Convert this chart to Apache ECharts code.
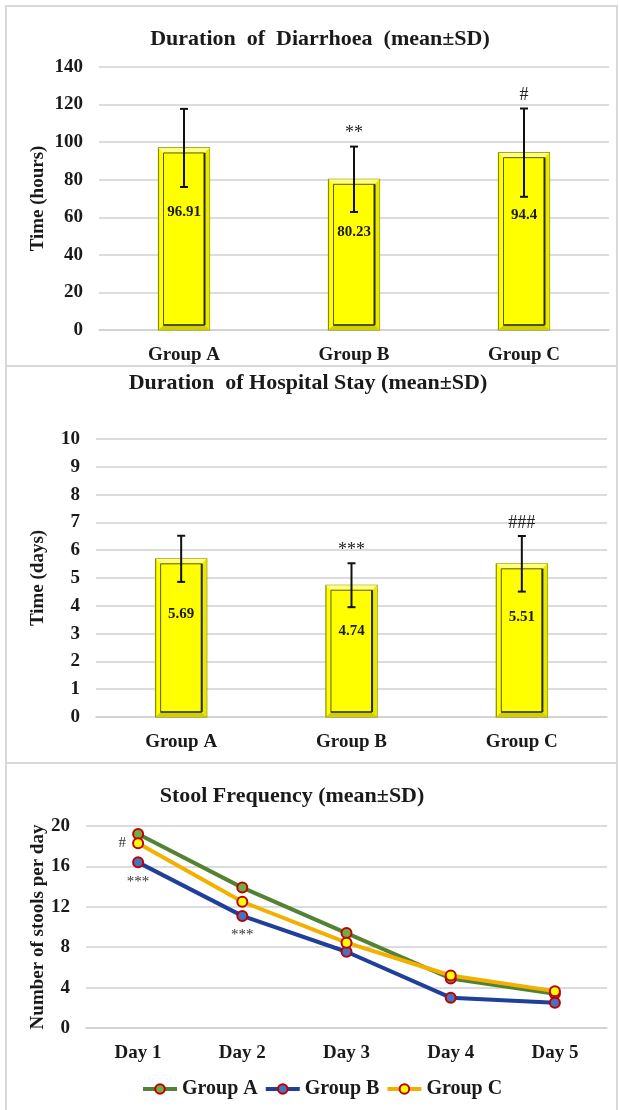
<!DOCTYPE html>
<html>
<head>
<meta charset="utf-8">
<script src="https://cdn.jsdelivr.net/npm/echarts@6.0.0/dist/echarts.min.js"></script>
<style>
	html, body { margin: 0; padding: 0; background: #fff; }
	#wrap { position: relative; width: 619px; height: 1110px; overflow: hidden; }
	.frame { position: absolute; border: 2px solid #d9d9d9; box-sizing: border-box; }
	#chart { position: absolute; left: 0; top: 0; width: 619px; height: 1110px; }
</style>
</head>
<body>
<div id="wrap">
	<div class="frame" style="left:5px;top:5px;width:613px;height:362px"></div>
	<div class="frame" style="left:5px;top:365px;width:613px;height:399px"></div>
	<div class="frame" style="left:5px;top:762px;width:613px;height:360px"></div>
	<div id="chart"></div>
</div>
<script>
	// data
	const groups = ['Group A', 'Group B', 'Group C'];
	const diarrhoeaMean = [96.91, 80.23, 94.4];
	const diarrhoeaSD = [20.8, 17.4, 23.5];
	const diarrhoeaMarks = ['', '**', '#'];
	const diarrhoeaTicks = { min: 0, max: 140, interval: 20 };

	const hospitalMean = [5.69, 4.74, 5.51];
	const hospitalSD = [0.83, 0.79, 1.0];
	const hospitalMarks = ['', '***', '###'];
	const hospitalTicks = { min: 0, max: 10, interval: 1 };

	const days = ['Day 1', 'Day 2', 'Day 3', 'Day 4', 'Day 5'];
	const stoolA = [19.2, 13.9, 9.4, 4.9, 3.4];
	const stoolB = [16.4, 11.1, 7.55, 3.0, 2.5];
	const stoolC = [18.3, 12.5, 8.45, 5.2, 3.65];
	const stoolMarksB = ['***', '***', '', '', ''];
	const stoolMarksC = ['#', '', '', '', ''];
	const stoolTicks = { min: 0, max: 20, interval: 4 };

	const serif = '"Liberation Serif", "Times New Roman", serif';
	const gridColor = '#d0d0d0';

	function barRender(means) {
		return function(params, api) {
			const i = api.value(0);
			const v = api.value(1);
			const top = api.coord([i, v]);
			const base = api.coord([i, 0]);
			const w = api.size([1, 0])[0] * 0.3;
			const x0 = top[0] - w / 2;
			const y0 = top[1];
			const y1 = base[1];
			const h = y1 - y0;
			const d = 5;
			return {
				type: 'group',
				children: [
					{ type: 'rect', shape: { x: x0, y: y0, width: w, height: h }, style: { fill: '#FFFF00', stroke: '#8C8C00', lineWidth: 1.2 } },
					{ type: 'polygon', shape: { points: [[x0, y0], [x0 + w, y0], [x0 + w - d, y0 + d], [x0 + d, y0 + d]] }, style: { fill: '#FFFF80' } },
					{ type: 'polygon', shape: { points: [[x0 + w, y0], [x0 + w, y1], [x0 + w - d, y1 - d], [x0 + w - d, y0 + d]] }, style: { fill: '#E8E800' } },
					{ type: 'polygon', shape: { points: [[x0, y1], [x0 + w, y1], [x0 + w - d, y1 - d], [x0 + d, y1 - d]] }, style: { fill: '#D0D000' } },
					{ type: 'rect', shape: { x: x0 + d, y: y0 + d, width: w - 2 * d, height: h - 2 * d }, style: { fill: '#FFFF00', stroke: '#5a5a00', lineWidth: 1 } },
					{ type: 'line', shape: { x1: x0 + w - d, y1: y0 + d, x2: x0 + w - d, y2: y1 - d }, style: { stroke: '#2a2a00', lineWidth: 2 } },
					{ type: 'line', shape: { x1: x0 + d, y1: y1 - d, x2: x0 + w - d, y2: y1 - d }, style: { stroke: '#3a3a00', lineWidth: 1.5 } },
					{
						type: 'text',
						style: {
							text: String(means[params.dataIndex]),
							x: top[0], y: y0 + h * 0.35,
							align: 'center', verticalAlign: 'middle',
							font: 'bold 15px ' + serif, fill: '#1a1a1a'
						}
					}
				]
			};
		};
	}

	function errRender(marks) {
		return function(params, api) {
			const i = api.value(0);
			const lo = api.coord([i, api.value(1)]);
			const hi = api.coord([i, api.value(2)]);
			const c = 4;
			return {
				type: 'group',
				children: [
					{ type: 'line', shape: { x1: hi[0], y1: hi[1], x2: lo[0], y2: lo[1] }, style: { stroke: '#111', lineWidth: 2 } },
					{ type: 'line', shape: { x1: hi[0] - c, y1: hi[1], x2: hi[0] + c, y2: hi[1] }, style: { stroke: '#111', lineWidth: 2 } },
					{ type: 'line', shape: { x1: lo[0] - c, y1: lo[1], x2: lo[0] + c, y2: lo[1] }, style: { stroke: '#111', lineWidth: 2 } },
					{
						type: 'text',
						style: {
							text: marks[params.dataIndex],
							x: hi[0], y: hi[1] - 4,
							align: 'center', verticalAlign: 'bottom',
							font: '18px ' + serif, fill: '#222'
						}
					}
				]
			};
		};
	}

	function catAxis(idx, data) {
		return {
			type: 'category', gridIndex: idx, data: data,
			axisLine: { lineStyle: { color: gridColor, width: 1.5 } },
			axisTick: { show: false },
			axisLabel: { margin: 16, fontFamily: serif, fontWeight: 'bold', fontSize: 19, color: '#1a1a1a' }
		};
	}

	function valAxis(idx, ticks, name, gap) {
		return {
			type: 'value', gridIndex: idx,
			min: ticks.min, max: ticks.max, interval: ticks.interval,
			name: name, nameLocation: 'middle', nameGap: gap,
			nameMoveOverlap: false,
			nameTextStyle: { fontFamily: serif, fontWeight: 'bold', fontSize: 19, color: '#1a1a1a' },
			axisLine: { show: false },
			axisTick: { show: false },
			splitLine: { lineStyle: { color: gridColor, width: 1.5 } },
			axisLabel: { margin: 16, fontFamily: serif, fontWeight: 'bold', fontSize: 19, color: '#1a1a1a' }
		};
	}

	function lineSeries(name, data, lineColor, fill, marks, pos) {
		return {
			name: name, type: 'line', xAxisIndex: 2, yAxisIndex: 2,
			data: data,
			symbol: 'circle', symbolSize: 10,
			lineStyle: { color: lineColor, width: 4 },
			itemStyle: { color: fill, borderColor: '#C00000', borderWidth: 2 },
			label: {
				show: true, position: pos, distance: 6,
				formatter: (p) => marks[p.dataIndex] || '',
				fontFamily: serif, fontSize: 15, color: '#333'
			}
		};
	}

	const myChart = echarts.init(document.getElementById('chart'));
	const option = {
		backgroundColor: 'transparent',
		animation: false,
		title: [
			{ text: 'Duration  of  Diarrhoea  (mean±SD)', left: 315, textAlign: 'center', top: 23, textStyle: { fontFamily: serif, fontWeight: 'bold', fontSize: 22, color: '#1a1a1a' } },
			{ text: 'Duration  of Hospital Stay (mean±SD)', left: 303, textAlign: 'center', top: 367, textStyle: { fontFamily: serif, fontWeight: 'bold', fontSize: 22, color: '#1a1a1a' } },
			{ text: 'Stool Frequency (mean±SD)', left: 287, textAlign: 'center', top: 780, textStyle: { fontFamily: serif, fontWeight: 'bold', fontSize: 22, color: '#1a1a1a' } }
		],
		grid: [
			{ left: 99, top: 67, width: 510, height: 263 },
			{ left: 96, top: 439, width: 511, height: 278 },
			{ left: 86, top: 826, width: 521, height: 202 }
		],
		legend: {
			data: ['Group A', 'Group B', 'Group C'],
			top: 1074, left: 136,
			itemWidth: 34, itemHeight: 12, itemGap: 6,
			lineStyle: { width: 4 },
			textStyle: { fontFamily: serif, fontWeight: 'bold', fontSize: 20, color: '#1a1a1a' }
		},
		xAxis: [catAxis(0, groups), catAxis(1, groups), catAxis(2, days)],
		yAxis: [
			valAxis(0, diarrhoeaTicks, 'Time (hours)', 51),
			valAxis(1, hospitalTicks, 'Time (days)', 48),
			valAxis(2, stoolTicks, 'Number of stools per day', 38)
		],
		series: [
			{
				type: 'custom', xAxisIndex: 0, yAxisIndex: 0,
				renderItem: barRender(diarrhoeaMean),
				data: diarrhoeaMean.map((m, i) => [i, m])
			},
			{
				type: 'custom', xAxisIndex: 0, yAxisIndex: 0, z: 5,
				renderItem: errRender(diarrhoeaMarks),
				data: diarrhoeaMean.map((m, i) => [i, m - diarrhoeaSD[i], m + diarrhoeaSD[i]])
			},
			{
				type: 'custom', xAxisIndex: 1, yAxisIndex: 1,
				renderItem: barRender(hospitalMean),
				data: hospitalMean.map((m, i) => [i, m])
			},
			{
				type: 'custom', xAxisIndex: 1, yAxisIndex: 1, z: 5,
				renderItem: errRender(hospitalMarks),
				data: hospitalMean.map((m, i) => [i, m - hospitalSD[i], m + hospitalSD[i]])
			},
			lineSeries('Group A', stoolA, '#548235', '#70AD47', [], 'top'),
			lineSeries('Group B', stoolB, '#1F3F99', '#4472C4', stoolMarksB, 'bottom'),
			lineSeries('Group C', stoolC, '#F2B100', '#FFFF00', stoolMarksC, 'left')
		]
	};
	myChart.setOption(option);
</script>
</body>
</html>
